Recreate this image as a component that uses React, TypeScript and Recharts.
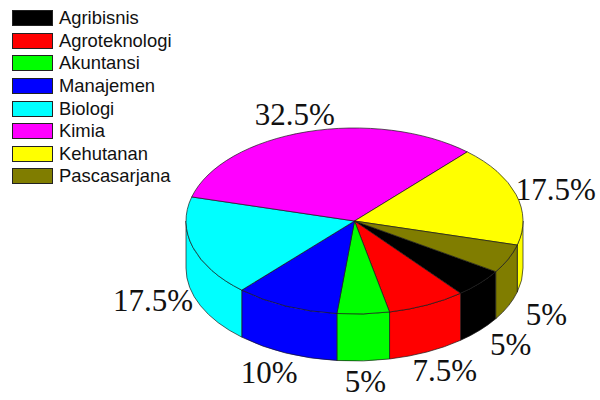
import { Legend, Pie, PieChart } from "recharts";

const categories = ["Agribisnis", "Agroteknologi", "Akuntansi", "Manajemen", "Biologi", "Kimia", "Kehutanan", "Pascasarjana"];
const shares = [5, 7.5, 5, 10, 17.5, 32.5, 17.5, 5];
const colors = ["#000000", "#ff0000", "#00ff00", "#0000ff", "#00ffff", "#ff00ff", "#ffff00", "#807d00"];

const tableData = categories.map((name, i) => ({ name, value: shares[i], fill: colors[i] }));

const SQUASH = 0.552; // flattens the circle into the tilted ellipse
const DEPTH = 47;
const RAD = Math.PI / 180;

const point = (cx: number, cy: number, r: number, deg: number) => ({
  x: cx + r * Math.cos(deg * RAD),
  y: cy - r * SQUASH * Math.sin(deg * RAD),
});

function TopSlice({ cx, cy, outerRadius, startAngle, endAngle, fill }: any) {
  const a = point(cx, cy, outerRadius, startAngle);
  const b = point(cx, cy, outerRadius, endAngle);
  const ry = outerRadius * SQUASH;
  const large = Math.abs(startAngle - endAngle) > 180 ? 1 : 0;
  const d = `M${cx},${cy} L${a.x},${a.y} A${outerRadius},${ry} 0 ${large} 1 ${b.x},${b.y} Z`;
  return <path d={d} fill={fill} stroke="#1a1a1a" strokeWidth={0.7} strokeLinejoin="round" />;
}

// side wall of a slice, only the part facing the viewer (lower half of the ellipse)
function WallSlice({ cx, cy, outerRadius, startAngle, endAngle, fill }: any) {
  const ry = outerRadius * SQUASH;
  const parts: string[] = [];
  for (const [winHi, winLo] of [[360, 180], [0, -180]]) {
    const hi = Math.min(startAngle, winHi);
    const lo = Math.max(endAngle, winLo);
    if (hi <= lo) continue;
    const a = point(cx, cy, outerRadius, hi);
    const b = point(cx, cy, outerRadius, lo);
    parts.push(
      `M${a.x},${a.y} A${outerRadius},${ry} 0 0 1 ${b.x},${b.y} L${b.x},${b.y + DEPTH} A${outerRadius},${ry} 0 0 0 ${a.x},${a.y + DEPTH} Z`,
    );
  }
  if (!parts.length) return <g />;
  return <path d={parts.join(" ")} fill={fill} stroke="#1a1a1a" strokeWidth={0.7} strokeLinejoin="round" />;
}

function renderLabel({ cx, cy, midAngle, value }: any) {
  const sin = Math.sin(midAngle * RAD);
  const x = cx + 210 * Math.cos(midAngle * RAD);
  const y = cy - (sin > 0 ? 111 : 114) * sin + (sin < 0 ? DEPTH : 0);
  return (
    <text x={x} y={y} textAnchor="middle" dominantBaseline="central" fontFamily="Liberation Serif" fontSize={31} fill="#111111">
      {value}%
    </text>
  );
}

function renderLegend({ payload }: any) {
  // both Pie series report their slices, keep one row per category
  const rows = categories.map((name) => (payload ?? []).find((item: any) => item.value === name)).filter(Boolean);
  return (
    <div style={{ position: "absolute", left: 12, top: 7 }}>
      {rows.map((item: any) => (
        <div key={item.value} style={{ display: "flex", alignItems: "center", height: 22.6 }}>
          <div style={{ width: 39, height: 14, background: item.color, border: "1px solid #222222", flex: "none" }} />
          <span style={{ marginLeft: 6, fontFamily: "Liberation Sans", fontSize: 18.4, color: "#111111", whiteSpace: "nowrap" }}>
            {item.value}
          </span>
        </div>
      ))}
    </div>
  );
}

export default function App() {
  return (
    <div style={{ position: "absolute", left: 0, top: 0, width: 600, height: 400, background: "#ffffff" }}>
      <PieChart width={600} height={400} margin={{ top: 0, right: 0, bottom: 0, left: 0 }}>
        <Legend content={renderLegend} wrapperStyle={{ left: 0, top: 0 }} />
        <Pie
          data={tableData}
          dataKey="value"
          nameKey="name"
          cx={354.5}
          cy={221}
          outerRadius={168.5}
          startAngle={327}
          endAngle={-33}
          shape={WallSlice}
          legendType="none"
          label={false}
          isAnimationActive={false}
        />
        <Pie
          data={tableData}
          dataKey="value"
          nameKey="name"
          cx={354.5}
          cy={221}
          outerRadius={168.5}
          startAngle={327}
          endAngle={-33}
          shape={TopSlice}
          label={renderLabel}
          labelLine={false}
          isAnimationActive={false}
        />
      </PieChart>
    </div>
  );
}
